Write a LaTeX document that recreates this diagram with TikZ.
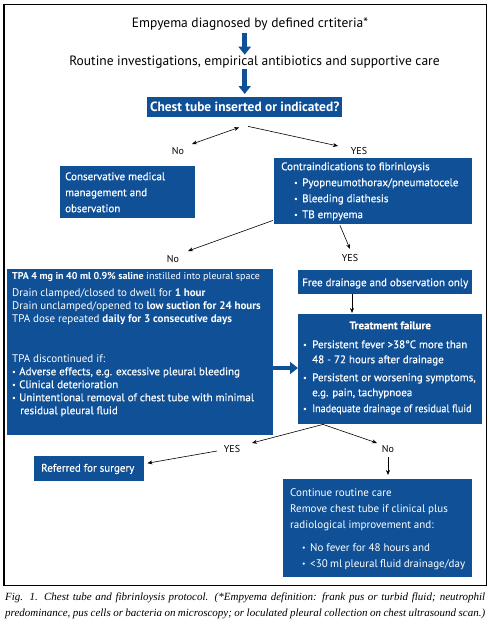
\documentclass[tikz,border=0pt]{standalone}
\usepackage{fontspec}
\usepackage{graphicx}
\setmainfont{PT Sans}
\newfontfamily\semib{PT Sans}[FakeBold=0.35]
\newfontfamily\capfont{Liberation Serif}
\usetikzlibrary{arrows.meta,calc}
\definecolor{tpblue}{RGB}{16,80,150}
\newcommand\bul[1][8pt]{\makebox[#1][l]{\raisebox{0.15ex}{\scalebox{0.7}{\textbullet}}}}
\begin{document}
\begin{tikzpicture}[x=1pt,y=-1pt,
  box/.style={fill=tpblue,text=white,inner ysep=0pt,inner xsep=#1,anchor=north west,
    font=\fontsize{11}{13}\selectfont},
  box/.default=5pt,
  plain/.style={inner sep=0pt,font=\fontsize{13.5}{15}\selectfont},
  lbl/.style={inner sep=1pt,font=\fontsize{10}{12}\selectfont},
  thinarrow/.style={-{Stealth[length=5pt,width=4pt]},line width=0.6pt},
  bigarrow/.style={draw=tpblue,line width=4.5pt,-{Triangle[length=8pt,width=12pt]}}]
\useasboundingbox (0,0) rectangle (489,626);
\fill[white] (0,0) rectangle (489,626);
\draw[line width=1.2pt] (4,4.5) rectangle (486.5,585.5);

\node[plain,anchor=base] (top) at (250,28) {Empyema diagnosed by defined crtiteria*};
\node[plain,anchor=base] (routine) at (254.5,66) {Routine investigations, empirical antibiotics and supportive care};

\node[box=0pt,font=\fontsize{13.4}{15}\selectfont\bfseries] (chest) at (147,97)
  {\parbox[b][20pt][t]{195pt}{\centering\rule{0pt}{14pt}Chest tube inserted or indicated?}};

\node[lbl] (no1) at (178,151) {No};
\node[lbl] (yes1) at (359,151) {YES};

\node[box,font=\fontsize{11}{16}\selectfont\semib] (cons) at (60,166)
  {\parbox[b][52pt][t]{125pt}{\rule{0pt}{14pt}Conservative medical\\ management and\\ observation}};

\node[box=7pt,font=\fontsize{11}{16}\selectfont\semib] (contra) at (274,158)
  {\parbox[b][66pt][t]{184pt}{\rule{0pt}{12pt}Contraindications to fibrinloysis\\
   \hspace*{13pt}\bul Pyopneumothorax/pneumatocele\\
   \hspace*{13pt}\bul Bleeding diathesis\\
   \hspace*{13pt}\bul TB empyema}};

\node[lbl] (no2) at (173,259) {No};
\node[lbl] (yes2) at (350,258) {YES};

\node[box] (tpa) at (7,269)
  {\parbox[b][166pt][t]{256pt}{\rule{0pt}{10pt}{\fontsize{10}{13}\selectfont\textbf{TPA 4 mg in 40 ml 0.9\% saline} instilled into pleural space}\\[4pt]
   Drain clamped/closed to dwell for \textbf{1 hour}\\
   Drain unclamped/opened to \textbf{low suction for 24 hours}\\
   TPA dose repeated \textbf{daily for 3 consecutive days}\\[27pt]
   TPA discontinued if:\\
   {\semib\bul[7pt]Adverse effects, e.g. excessive pleural bleeding}\\
   {\semib\bul[7pt]Clinical deterioration}\\
   {\semib\bul[7pt]Unintentional removal of chest tube with minimal}\\
   {\semib\hspace*{8pt}residual pleural fluid}}};

\node[box=0pt,font=\fontsize{11}{13}\selectfont\semib] (free) at (298,270)
  {\parbox[b][24pt][t]{174pt}{\centering\rule{0pt}{16pt}Free drainage and observation only}};

\node[box,font=\fontsize{11}{15}\selectfont\semib] (treat) at (298,314)
  {\parbox[b][110pt][t]{174pt}{\rule{0pt}{15pt}\hfill\textbf{Treatment failure}\hfill\hbox{}\\[4pt]
   \bul[9pt]Persistent fever >38°C more than\\
   \hspace*{9pt}48 - 72 hours after drainage\\[3pt]
   \bul[9pt]Persistent or worsening symptoms,\\
   \hspace*{9pt}e.g. pain, tachypnoea\\[1pt]
   \bul[9pt]\scalebox{0.92}[1]{Inadequate drainage of residual fluid}}};

\node[lbl] (yes3) at (232,449) {YES};
\node[lbl] (no3) at (388,449) {No};

\node[box=7pt,font=\fontsize{11}{13}\selectfont\semib] (ref) at (34,456)
  {\parbox[b][25pt][t]{96pt}{\rule{0pt}{15.5pt}Referred for surgery}};

\node[box=7pt,font=\fontsize{11}{16}\selectfont] (cont) at (283,479)
  {\parbox[b][98pt][t]{175pt}{\rule{0pt}{17pt}Continue routine care\\
   Remove chest tube if clinical plus\\
   radiological improvement and:\\[7pt]
   \hspace*{12pt}\bul No fever for 48 hours and\\
   \hspace*{12pt}\bul <30 ml pleural fluid drainage/day}};

\node[anchor=north west,inner sep=0pt] (cap) at (5,589)
  {\parbox{480pt}{\capfont\itshape\fontsize{11}{16.5}\selectfont\setlength{\parfillskip}{0pt}\rule{0pt}{11pt}Fig. 1. Chest tube and fibrinloysis protocol. (*Empyema definition: frank pus or turbid fluid; neutrophil\linebreak predominance, pus cells or bacteria on microscopy; or loculated pleural collection on chest ultrasound scan.)}};

% thick arrows
\draw[bigarrow,shorten <=1.5pt,shorten >=1.5pt] (top.south -| chest.north) -- (routine.north -| chest.north);
\draw[bigarrow,shorten >=3pt] (routine.south -| chest.north) -- (chest.north);
\draw[bigarrow] ($(tpa.north east)+(0,99)$) -- ($(treat.north west)+(0,54)$);

% thin arrows
\draw[thinarrow,{Stealth[length=5pt,width=4pt]}-{Stealth[length=5pt,width=4pt]}] ($(chest.south)+(-5.5,10)$) -- ($(no1)+(14,-7)$);
\draw[thinarrow] ($(chest.south)+(3.5,9)$) -- ($(yes1)+(-21,-5)$);
\draw[thinarrow] ($(contra.south west)+(-1,-4)$) -- ($(no2)+(15,-8)$);
\draw[thinarrow] ($(contra.south west)+(66,1)$) -- ($(yes2)+(0,-9)$);
\draw[thinarrow] ($(free.south west)+(54,0)$) -- ($(treat.north west)+(54,-1)$);
\draw[thinarrow] ($(treat.south west)+(25,0)$) -- ($(yes3)+(20,-6)$);
\draw[thinarrow] ($(treat.south west)+(25,0)$) -- ($(no3)+(-11,-6)$);
\draw[thinarrow] ($(yes3)+(-15,2)$) -- ($(ref.east)+(3,-5.5)$);
\draw[thinarrow] ($(no3)+(0,8)$) -- ($(cont.north west)+(105,-4)$);
\end{tikzpicture}
\end{document}
